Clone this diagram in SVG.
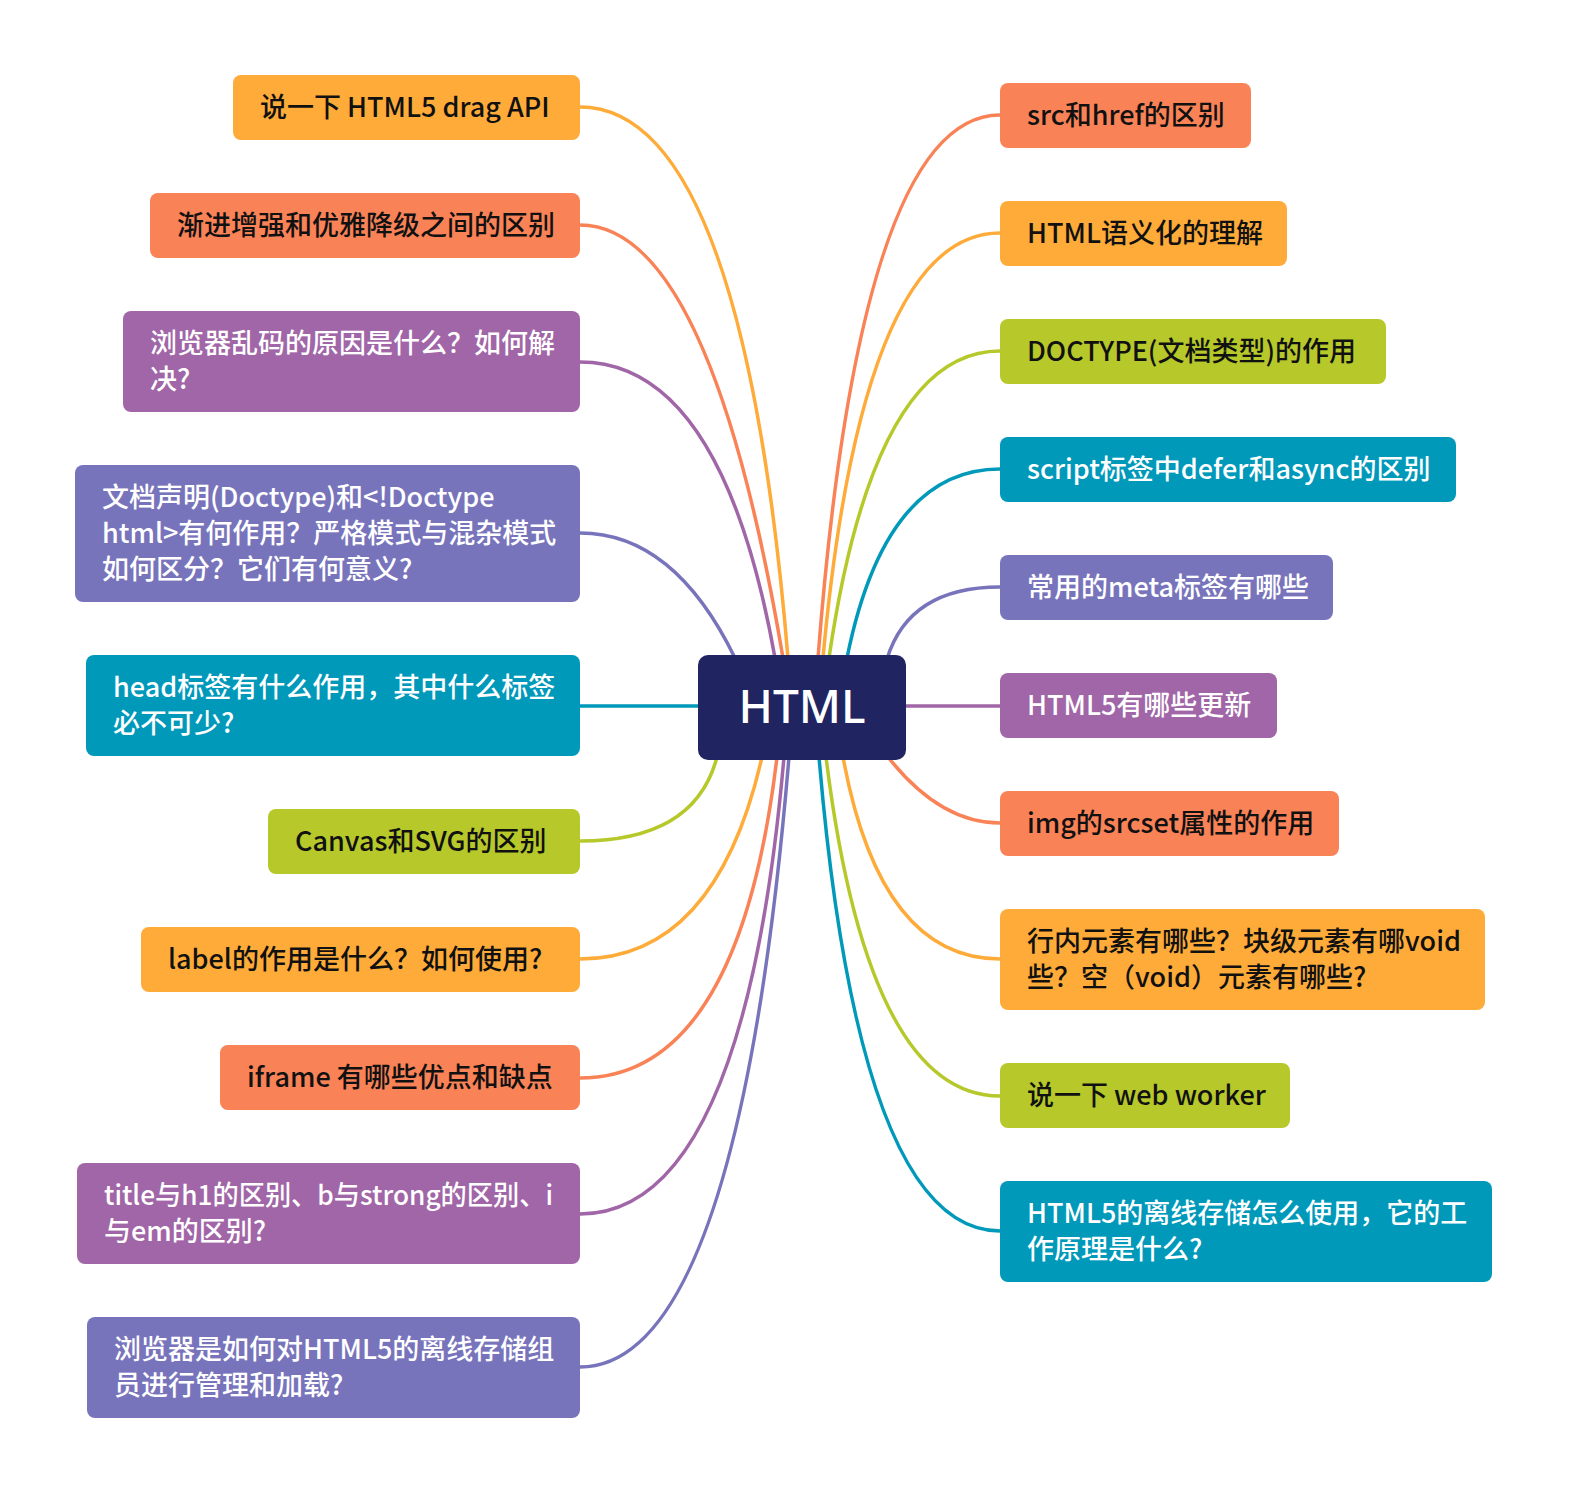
<svg xmlns="http://www.w3.org/2000/svg" width="1572" height="1498" viewBox="0 0 1572 1498">
<style>
.t{font-family:"Noto Sans CJK SC","Noto Sans",sans-serif;font-size:27px;font-weight:500}
.dk{fill:#111111}
.wt{fill:#ffffff}
.c{fill:none;stroke-width:3.5;stroke-linecap:round}
.or{fill:#FEAB39}.orS{stroke:#FEAB39}
.rd{fill:#F98257}.rdS{stroke:#F98257}
.pu{fill:#A166A7}.puS{stroke:#A166A7}
.bv{fill:#7874BC}.bvS{stroke:#7874BC}
.te{fill:#0099BA}.teS{stroke:#0099BA}
.gr{fill:#B6C82A}.grS{stroke:#B6C82A}
</style>
<rect width="1572" height="1498" fill="#ffffff"/>
<g id="connectors">
<path class="c orS" d="M788,658 Q742,107 580,107"/>
<path class="c rdS" d="M783,658 Q710,225 580,225"/>
<path class="c puS" d="M775,658 Q722,362 580,362"/>
<path class="c bvS" d="M735,658 Q674,533 580,533"/>
<path class="c teS" d="M580,706 L710,706"/>
<path class="c grS" d="M717,757 Q695,841 580,841"/>
<path class="c orS" d="M762,757 Q716,959 580,959"/>
<path class="c rdS" d="M777,757 Q739,1078 580,1078"/>
<path class="c puS" d="M784,757 Q744,1214 580,1214"/>
<path class="c bvS" d="M789,757 Q738,1367 580,1367"/>
<path class="c rdS" d="M818,658 Q860,115 1000,115"/>
<path class="c orS" d="M823,658 Q862,233 1000,233"/>
<path class="c grS" d="M829,658 Q874,351 1000,351"/>
<path class="c teS" d="M847,658 Q885,469 1000,469"/>
<path class="c bvS" d="M887,659 Q909,587 1000,587"/>
<path class="c puS" d="M895,706 L1000,706"/>
<path class="c rdS" d="M888,757 Q940,823 1000,823"/>
<path class="c orS" d="M843,757 Q880,959 1000,959"/>
<path class="c grS" d="M826,757 Q868,1096 1000,1096"/>
<path class="c teS" d="M819,757 Q859,1231 1000,1231"/>
</g>
<g id="center">
<rect x="698" y="655" width="208" height="105" rx="10" fill="#202562"/>
<text x="802" y="723" text-anchor="middle" font-family="'Noto Sans','Noto Sans CJK SC',sans-serif" font-size="46" font-weight="500" fill="#ffffff">HTML</text>
</g>
<g id="L1"><rect class="or" x="233" y="75" width="347" height="65" rx="8"/><text class="t dk" x="260" y="117">说一下 HTML5 drag API</text></g>
<g id="L2"><rect class="rd" x="150" y="193" width="430" height="65" rx="8"/><text class="t dk" x="177" y="235">渐进增强和优雅降级之间的区别</text></g>
<g id="L3"><rect class="pu" x="123" y="311" width="457" height="101" rx="8"/><text class="t wt" x="150" y="353">浏览器乱码的原因是什么？如何解</text><text class="t wt" x="150" y="389">决?</text></g>
<g id="L4"><rect class="bv" x="75" y="465" width="505" height="137" rx="8"/><text class="t wt" x="102" y="507">文档声明(Doctype)和&lt;!Doctype</text><text class="t wt" x="102" y="543">html&gt;有何作用？严格模式与混杂模式</text><text class="t wt" x="102" y="579">如何区分？它们有何意义?</text></g>
<g id="L5"><rect class="te" x="86" y="655" width="494" height="101" rx="8"/><text class="t wt" x="113" y="697">head标签有什么作用，其中什么标签</text><text class="t wt" x="113" y="733">必不可少?</text></g>
<g id="L6"><rect class="gr" x="268" y="809" width="312" height="65" rx="8"/><text class="t dk" x="295" y="851">Canvas和SVG的区别</text></g>
<g id="L7"><rect class="or" x="141" y="927" width="439" height="65" rx="8"/><text class="t dk" x="168" y="969">label的作用是什么？如何使用?</text></g>
<g id="L8"><rect class="rd" x="220" y="1045" width="360" height="65" rx="8"/><text class="t dk" x="247" y="1087">iframe 有哪些优点和缺点</text></g>
<g id="L9"><rect class="pu" x="77" y="1163" width="503" height="101" rx="8"/><text class="t wt" x="104" y="1205" textLength="449" lengthAdjust="spacingAndGlyphs">title与h1的区别、b与strong的区别、i</text><text class="t wt" x="104" y="1241">与em的区别?</text></g>
<g id="L10"><rect class="bv" x="87" y="1317" width="493" height="101" rx="8"/><text class="t wt" x="114" y="1359">浏览器是如何对HTML5的离线存储组</text><text class="t wt" x="114" y="1395">员进行管理和加载?</text></g>
<g id="R1"><rect class="rd" x="1000" y="83" width="251" height="65" rx="8"/><text class="t dk" x="1027" y="125">src和href的区别</text></g>
<g id="R2"><rect class="or" x="1000" y="201" width="287" height="65" rx="8"/><text class="t dk" x="1027" y="243">HTML语义化的理解</text></g>
<g id="R3"><rect class="gr" x="1000" y="319" width="386" height="65" rx="8"/><text class="t dk" x="1027" y="361">DOCTYPE(文档类型)的作用</text></g>
<g id="R4"><rect class="te" x="1000" y="437" width="456" height="65" rx="8"/><text class="t wt" x="1027" y="479">script标签中defer和async的区别</text></g>
<g id="R5"><rect class="bv" x="1000" y="555" width="333" height="65" rx="8"/><text class="t wt" x="1027" y="597">常用的meta标签有哪些</text></g>
<g id="R6"><rect class="pu" x="1000" y="673" width="277" height="65" rx="8"/><text class="t wt" x="1027" y="715">HTML5有哪些更新</text></g>
<g id="R7"><rect class="rd" x="1000" y="791" width="339" height="65" rx="8"/><text class="t dk" x="1027" y="833">img的srcset属性的作用</text></g>
<g id="R8"><rect class="or" x="1000" y="909" width="485" height="101" rx="8"/><text class="t dk" x="1027" y="951">行内元素有哪些？块级元素有哪void</text><text class="t dk" x="1027" y="987">些？空（void）元素有哪些?</text></g>
<g id="R9"><rect class="gr" x="1000" y="1063" width="290" height="65" rx="8"/><text class="t dk" x="1027" y="1105">说一下 web worker</text></g>
<g id="R10"><rect class="te" x="1000" y="1181" width="492" height="101" rx="8"/><text class="t wt" x="1027" y="1223">HTML5的离线存储怎么使用，它的工</text><text class="t wt" x="1027" y="1259">作原理是什么?</text></g>
</svg>
